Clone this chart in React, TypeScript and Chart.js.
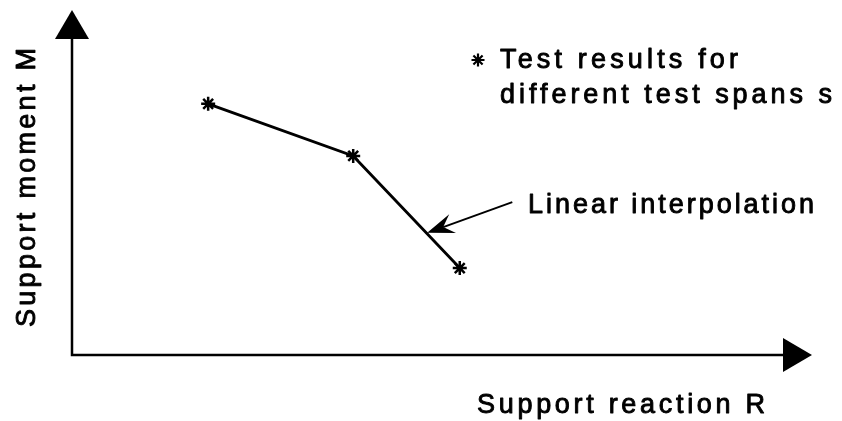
import React, { useEffect, useRef } from "react";
import { Chart, registerables } from "chart.js";

Chart.register(...registerables);

// Test results (arbitrary units, no ticks on the original)
const reactionR = [18.4, 38.0, 52.4];
const momentM = [72.8, 57.7, 25.2];

// annotation arrow (data units): from label towards the interpolation line
const annFrom = [59.5, 44.3];
const annTo = [48.0, 35.4];

const xLabel = "Support reaction R";
const yLabel = "Support moment M";
const annLabel = "Linear interpolation";
const legendLines = ["Test results for", "different test spans s"];

const FONT_FAMILY = '"Liberation Sans", Arial, Helvetica, sans-serif';

function fitText(
  ctx: CanvasRenderingContext2D,
  text: string,
  x: number,
  y: number,
  width: number,
  size: number,
  align: "left" | "center" = "left"
) {
  ctx.save();
  ctx.font = `${size}px ${FONT_FAMILY}`;
  (ctx as any).letterSpacing = "0px";
  const w = ctx.measureText(text).width;
  const ls = (width - w) / Math.max(1, text.length - 1);
  (ctx as any).letterSpacing = `${ls}px`;
  ctx.textAlign = "left";
  ctx.textBaseline = "alphabetic";
  const startX = align === "center" ? x - width / 2 : x;
  ctx.fillStyle = "#000";
  ctx.strokeStyle = "#000";
  ctx.lineWidth = 0.9;
  ctx.lineJoin = "round";
  ctx.fillText(text, startX, y);
  ctx.strokeText(text, startX, y);
  ctx.restore();
}

function drawStar(ctx: CanvasRenderingContext2D, x: number, y: number, r: number) {
  ctx.save();
  ctx.strokeStyle = "#000";
  ctx.lineWidth = 2.2;
  ctx.beginPath();
  for (let i = 0; i < 4; i++) {
    const a = (i * Math.PI) / 4;
    ctx.moveTo(x - r * Math.cos(a), y - r * Math.sin(a));
    ctx.lineTo(x + r * Math.cos(a), y + r * Math.sin(a));
  }
  ctx.stroke();
  ctx.restore();
}

const decorPlugin = {
  id: "decor",
  afterDatasetsDraw(chart: any) {
    const { ctx, chartArea, scales } = chart;
    const { left, right, top, bottom } = chartArea;
    ctx.save();
    ctx.fillStyle = "#000";
    ctx.strokeStyle = "#000";
    ctx.lineWidth = 2.5;
    ctx.lineCap = "butt";

    // axes
    const headLen = 29;
    const headHalf = 17;
    ctx.beginPath();
    ctx.moveTo(left, top + headLen);
    ctx.lineTo(left, bottom);
    ctx.lineTo(right - headLen, bottom);
    ctx.stroke();
    // y arrow head
    ctx.beginPath();
    ctx.moveTo(left, top);
    ctx.lineTo(left - headHalf, top + headLen);
    ctx.lineTo(left + headHalf, top + headLen);
    ctx.closePath();
    ctx.fill();
    // x arrow head
    ctx.beginPath();
    ctx.moveTo(right, bottom);
    ctx.lineTo(right - headLen, bottom - headHalf);
    ctx.lineTo(right - headLen, bottom + headHalf);
    ctx.closePath();
    ctx.fill();

    // annotation arrow
    const x0 = scales.x.getPixelForValue(annFrom[0]);
    const y0 = scales.y.getPixelForValue(annFrom[1]);
    const x1 = scales.x.getPixelForValue(annTo[0]);
    const y1 = scales.y.getPixelForValue(annTo[1]);
    const ang = Math.atan2(y1 - y0, x1 - x0);
    const hl = 27;
    const hw = 10;
    const notch = 17;
    const ux = Math.cos(ang);
    const uy = Math.sin(ang);
    const px = -uy;
    const py = ux;
    ctx.lineWidth = 2;
    ctx.beginPath();
    ctx.moveTo(x0, y0);
    ctx.lineTo(x1 - ux * notch, y1 - uy * notch);
    ctx.stroke();
    ctx.beginPath();
    ctx.moveTo(x1, y1);
    ctx.lineTo(x1 - ux * hl + px * hw, y1 - uy * hl + py * hw);
    ctx.lineTo(x1 - ux * notch, y1 - uy * notch);
    ctx.lineTo(x1 - ux * hl - px * hw, y1 - uy * hl - py * hw);
    ctx.closePath();
    ctx.fill();

    // texts
    fitText(ctx, annLabel, 528, 213, 286, 27);
    fitText(ctx, xLabel, 477, 413, 288, 27);
    fitText(ctx, legendLines[0], 500, 68, 238, 27);
    fitText(ctx, legendLines[1], 500, 103, 332, 27);
    drawStar(ctx, 478, 60, 6.5);

    // rotated y label
    ctx.save();
    ctx.translate(35, 187.5);
    ctx.rotate(-Math.PI / 2);
    fitText(ctx, yLabel, 0, 0, 279, 27, "center");
    ctx.restore();

    ctx.restore();
  },
};

export default function App() {
  const canvasRef = useRef<HTMLCanvasElement | null>(null);

  useEffect(() => {
    if (!canvasRef.current) return;
    const points = reactionR.map((r, i) => ({ x: r, y: momentM[i] }));
    const chart = new Chart(canvasRef.current, {
      type: "scatter",
      data: {
        datasets: [
          {
            label: "Test results",
            data: points,
            showLine: true,
            borderColor: "#000",
            borderWidth: 2.8,
            tension: 0,
            pointStyle: "star",
            pointRadius: 7,
            pointBorderWidth: 2.5,
            pointBorderColor: "#000",
            pointBackgroundColor: "#000",
          },
        ],
      },
      options: {
        animation: false,
        responsive: false,
        layout: { padding: { left: 72, right: 30, top: 10, bottom: 66 } },
        plugins: {
          legend: { display: false },
          tooltip: { enabled: false },
        },
        scales: {
          x: { type: "linear", min: 0, max: 100, display: false },
          y: { type: "linear", min: 0, max: 100, display: false },
        },
      },
      plugins: [decorPlugin],
    });
    return () => chart.destroy();
  }, []);

  return (
    <div style={{ position: "absolute", left: 0, top: 0, width: 842, height: 421, background: "#fff" }}>
      <canvas ref={canvasRef} width={842} height={421} style={{ display: "block" }} />
    </div>
  );
}
